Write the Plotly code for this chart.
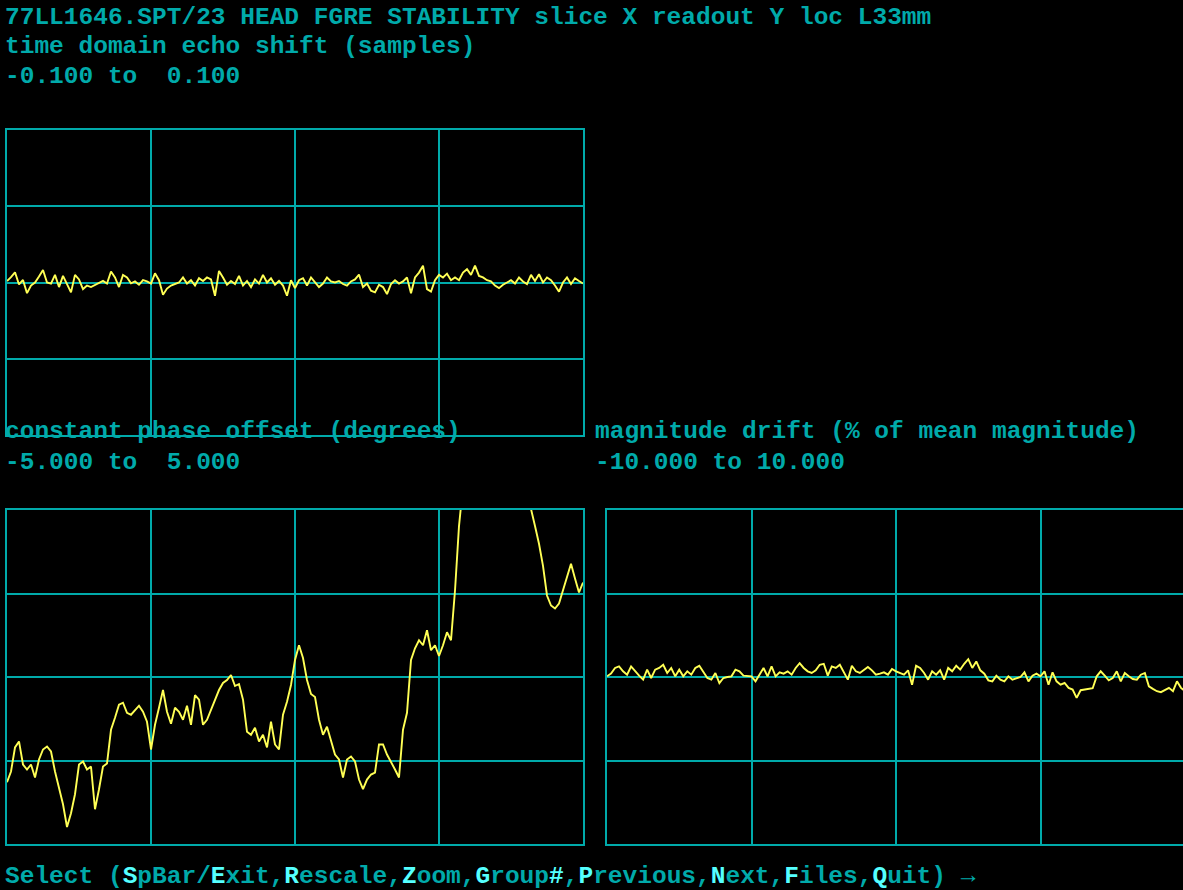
import plotly.graph_objects as go

# ---- data -------------------------------------------------------------
frames = list(range(145))

# time domain echo shift (samples), one value per frame
echo_shift = [
    0.001, 0.0035, 0.0067, -0.0013, 0.0017, -0.007, -0.002, 0.0, 0.0039, 0.0082,
    0.0, -0.0007, 0.005, -0.003, 0.0043, -0.001, -0.0065, 0.005, 0.002, -0.0043,
    -0.002, -0.003, -0.0015, 0.0, 0.001, -0.0007, 0.0072, 0.0033, -0.003, 0.005,
    0.0033, -0.0005, 0.0007, -0.0015, 0.0015, 0.0007, -0.0007, 0.006, 0.0015, -0.008,
    -0.004, -0.002, -0.0012, 0.0, 0.0033, -0.0007, 0.0015, -0.002, 0.0028, 0.001,
    0.0033, 0.002, -0.0087, 0.0076, 0.0033, -0.0015, 0.001, -0.001, 0.0043, -0.002,
    0.001, -0.003, 0.002, -0.0007, 0.005, 0.0, 0.0028, -0.0015, 0.001, -0.002,
    -0.0087, 0.0015,
    -0.0037, 0.0015, 0.0028, -0.002, 0.0033, 0.0, -0.003, -0.0007, 0.0033, 0.0007,
    0.0, 0.001, -0.001, -0.002, 0.0007, 0.002, 0.0052, -0.003, -0.0007, -0.0054,
    -0.0065, -0.0015, -0.003, -0.0076, -0.001, 0.0015, -0.0007, 0.0007, 0.0033, -0.007,
    0.0033, 0.0065, 0.011, -0.0043, -0.006, 0.0015, 0.005, 0.0033, 0.0058, 0.0015,
    0.0033, 0.0015, 0.0065, 0.0087, 0.005, 0.011, 0.0043, 0.0033, 0.0015, 0.0007,
    -0.002, -0.0037, -0.0015, 0.0, 0.0015, -0.0007, 0.0033, 0.0007, -0.001, 0.005,
    0.001, 0.0054, 0.0, 0.0033, 0.0015, -0.002, -0.006, 0.0, 0.0033, -0.001,
    0.0028, 0.001, -0.0007,
]

# constant phase offset (degrees)
phase_offset = [
    -3.15, -2.83, -2.11, -1.93, -2.62, -2.77, -2.62, -3.01, -2.47, -2.17,
    -2.08, -2.23, -2.83, -3.36, -3.81, -4.49, -4.08, -3.51, -2.62, -2.53,
    -2.77, -2.68, -3.96, -3.36, -2.68, -2.59, -1.58, -1.22, -0.83, -0.77,
    -1.07, -1.13, -0.98, -0.86, -1.04, -1.34, -2.17, -1.43, -0.92, -0.39,
    -1.04, -1.40, -0.92, -1.04, -1.28, -0.86, -1.43, -0.54, -0.68, -1.43,
    -1.28, -0.98, -0.68, -0.39, -0.18, -0.09, 0.06, -0.27, -0.21, -0.68,
    -1.64, -1.73, -1.52, -1.93, -1.73, -2.11, -1.34, -2.02, -2.17, -1.13,
    -0.74, -0.24, 0.51, 0.95, 0.57, -0.09, -0.51, -0.60, -1.28, -1.73,
    -1.49, -1.93, -2.32, -2.47, -3.01, -2.47, -2.38, -2.53, -3.07, -3.36,
    -3.07, -2.92, -2.86, -2.02, -2.02, -2.32, -2.53, -2.77, -3.01, -1.58,
    -1.07, 0.51, 0.86, 1.10, 0.95, 1.40, 0.80, 0.95, 0.63, 0.95,
    1.34, 1.10, 2.59, 4.52, 5.71, 6.35, 6.10, 6.72, 6.48, 7.05,
    6.80, 7.20, 6.95, 6.70, 6.88, 6.42, 6.55, 6.10, 5.85, 5.71,
    5.36, 5.03, 4.52, 3.99, 3.33, 2.44, 2.14, 2.05, 2.20, 2.59,
    3.04, 3.39, 2.95, 2.53, 2.83,
]

# magnitude drift (% of mean magnitude)
magnitude_drift = [
    0.04, 0.20, 0.54, 0.63, 0.34, 0.14, 0.63, 0.34, 0.08, -0.16,
    0.44, -0.06, 0.44, 0.54, 0.73, 0.24, 0.54, 0.04, 0.44, 0.04,
    0.34, 0.14, 0.54, 0.67, 0.34, -0.06, -0.16, 0.24, -0.36, -0.06,
    0.00, 0.04, 0.44, 0.34, 0.08, 0.08, 0.04, -0.26, 0.14, 0.54,
    0.04, 0.63, 0.04, 0.28, 0.20, 0.34, 0.14, 0.54, 0.83, 0.54,
    0.34, 0.24, 0.40, 0.73, 0.79, 0.08, 0.63, 0.54, 0.73, 0.28,
    -0.16, 0.67, 0.34, 0.24, 0.44, 0.60, 0.40, 0.14, 0.20, 0.28,
    0.14, 0.48, 0.34, 0.24, 0.14, 0.40, -0.46, 0.67, 0.54, 0.24,
    -0.16, 0.34, 0.14, 0.40, -0.16, 0.54, 0.34, 0.67, 0.44, 0.79,
    1.07, 0.54, 0.93, 0.40, 0.20, -0.20, -0.26, 0.08, -0.16, -0.26,
    0.04, -0.16, -0.06, 0.00, 0.28, -0.26, 0.08, 0.20, 0.04, 0.34,
    -0.46, 0.28, -0.26, -0.46, -0.36, -0.65, -0.75, -1.25, -0.79, -0.75,
    -0.71, -0.67, 0.04, 0.34, 0.08, -0.20, -0.06, 0.34, -0.26, 0.24,
    0.04, -0.12, -0.16, 0.14, 0.24, -0.56, -0.71, -0.85, -0.91, -0.79,
    -0.65, -0.85, -0.26, -0.65, -0.85,
]

# display ranges (lower, upper) for each panel
echo_range = [-0.1, 0.1]
phase_range = [-5.0, 5.0]
magnitude_range = [-10.0, 10.0]

# ---- styling -------------------------------------------------------------
W, H = 1183, 890
CYAN = "#00AAAA"
BRIGHT = "#55FFFF"
YELLOW = "#FFFF55"
FONT = "Liberation Mono"
FSIZE = 24.5


def dom_x(a, b):
    return [a / W, min(b / W, 1.0)]


def dom_y(top, bottom):
    return [1 - bottom / H, 1 - top / H]


def quarter_ticks(lo, hi):
    step = (hi - lo) / 4
    return [lo + step, lo + 2 * step, lo + 3 * step]


axis_common = dict(
    showgrid=True, gridcolor=CYAN, gridwidth=2,
    zeroline=False, showticklabels=False, ticks="",
    showline=True, linecolor=CYAN, linewidth=2, mirror=True,
    fixedrange=True,
)

fig = go.Figure()
line_style = dict(color=YELLOW, width=1.9)

fig.add_trace(go.Scatter(x=frames, y=echo_shift, mode="lines", line=line_style,
                         xaxis="x", yaxis="y", hoverinfo="skip"))
fig.add_trace(go.Scatter(x=frames, y=phase_offset, mode="lines", line=line_style,
                         xaxis="x2", yaxis="y2", hoverinfo="skip"))
fig.add_trace(go.Scatter(x=frames, y=magnitude_drift, mode="lines", line=line_style,
                         xaxis="x3", yaxis="y3", hoverinfo="skip"))

xr = [frames[0], frames[-1]]
xt = quarter_ticks(xr[0], xr[1])

# the right-hand panel runs off the edge of the screen: no right border
right_y = dict(axis_common, mirror=False)

fig.update_layout(
    width=W, height=H,
    margin=dict(l=0, r=0, t=0, b=0),
    paper_bgcolor="black", plot_bgcolor="black",
    showlegend=False,
    xaxis=dict(domain=dom_x(7, 583), range=xr, tickvals=xt, anchor="y", **axis_common),
    yaxis=dict(domain=dom_y(130, 435), range=echo_range,
               tickvals=quarter_ticks(*echo_range), anchor="x", **axis_common),
    xaxis2=dict(domain=dom_x(7, 583), range=xr, tickvals=xt, anchor="y2", **axis_common),
    yaxis2=dict(domain=dom_y(510, 844), range=phase_range,
                tickvals=quarter_ticks(*phase_range), anchor="x2", **axis_common),
    xaxis3=dict(domain=dom_x(607, 1183), range=[xr[0], xr[1] - 0.5], tickvals=xt,
                anchor="y3", **axis_common),
    yaxis3=dict(domain=dom_y(510, 844), range=magnitude_range,
                tickvals=quarter_ticks(*magnitude_range), anchor="x3", **right_y),
)


def fmt_range(lo, hi):
    return f"{lo:6.3f} to {hi:6.3f}".strip(" ").replace(" ", "\u00a0")


def label(text, px, py, color=CYAN):
    fig.add_annotation(
        text=text, x=px / W, y=1 - py / H, xref="paper", yref="paper",
        xanchor="left", yanchor="middle", showarrow=False, align="left",
        borderpad=0, font=dict(family=FONT, size=FSIZE, color=color, weight="bold"),
    )


def nb(s):
    return s.replace(" ", "\u00a0")


label(nb("77LL1646.SPT/23 HEAD FGRE STABILITY slice X readout Y loc L33mm"), 4, 17)
label(nb("time domain echo shift (samples)"), 4, 47)
label(fmt_range(*echo_range), 4, 77)
label(nb("constant phase offset (degrees)"), 4, 432)
label(fmt_range(*phase_range), 4, 462)
label(nb("magnitude drift (% of mean magnitude)"), 594, 432)
label(fmt_range(*magnitude_range), 594, 462)


def hot(ch):
    return f"<span style='color:{BRIGHT}'>{ch}</span>"


prompt = ("Select\u00a0(" + hot("S") + "pBar/" + hot("E") + "xit," + hot("R") + "escale,"
          + hot("Z") + "oom," + hot("G") + "roup" + hot("#") + "," + hot("P") + "revious,"
          + hot("N") + "ext," + hot("F") + "iles," + hot("Q") + "uit)\u00a0\u2192")
label(prompt, 4, 876)

fig.write_html("out.html", config={"displayModeBar": False})
